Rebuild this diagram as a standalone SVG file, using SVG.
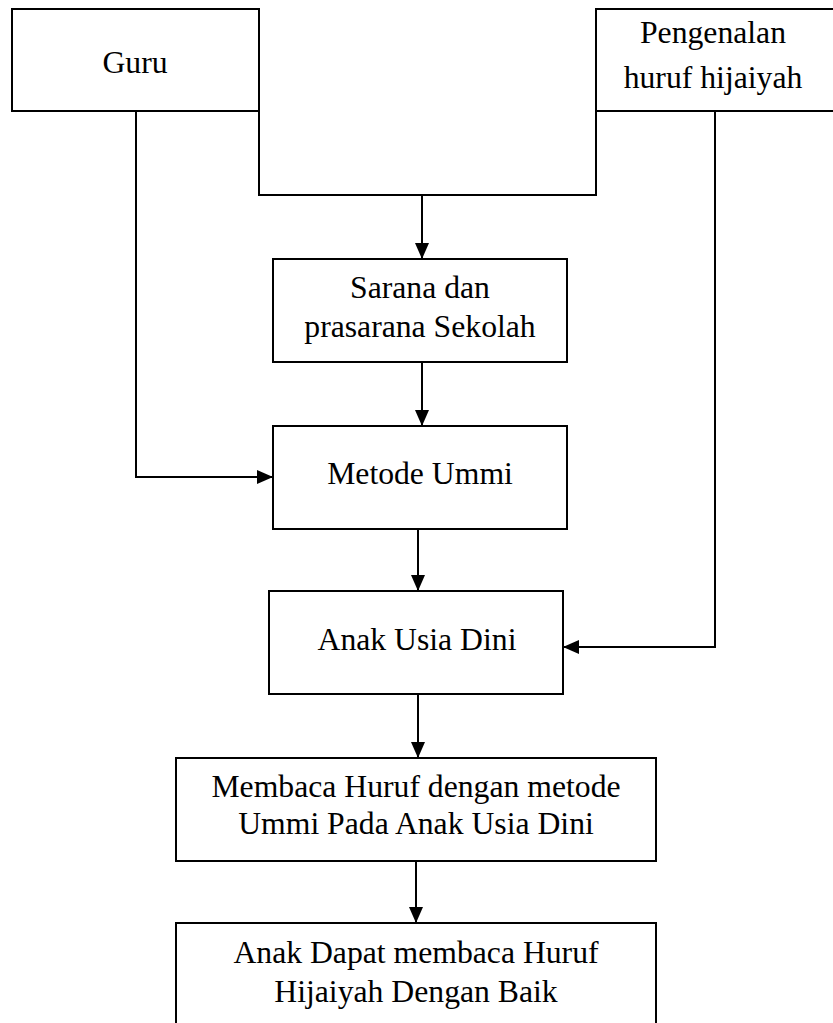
<svg xmlns="http://www.w3.org/2000/svg" width="833" height="1023" viewBox="0 0 833 1023">
<style>
.box{fill:#fff;stroke:#000;stroke-width:2}
.t{font-family:"Liberation Serif","Times New Roman",serif;font-size:31.7px;fill:#000;text-anchor:middle}
.c{fill:none;stroke:#000;stroke-width:2}
</style>
<defs>
<marker id="ah" markerUnits="userSpaceOnUse" viewBox="0 0 16 14" refX="16" refY="7" markerWidth="16" markerHeight="14" orient="auto">
<path d="M0,0 L16,7 L0,14 Z" fill="#000"/>
</marker>
</defs>
<rect width="833" height="1023" fill="#fff"/>
<g id="connectors">
<path class="c" d="M259,111 V195 H596 V111"/>
<path class="c" d="M422,195 V259" marker-end="url(#ah)"/>
<path class="c" d="M136,111 V477 H273" marker-end="url(#ah)"/>
<path class="c" d="M715,111 V647 H563" marker-end="url(#ah)"/>
<path class="c" d="M422,362 V426" marker-end="url(#ah)"/>
<path class="c" d="M418,529 V591" marker-end="url(#ah)"/>
<path class="c" d="M418,694 V758" marker-end="url(#ah)"/>
<path class="c" d="M416,861 V923" marker-end="url(#ah)"/>
</g>
<g id="guru">
<rect class="box" x="12" y="9" width="247" height="102"/>
<text class="t" x="135" y="73">Guru</text>
</g>
<g id="pengenalan">
<rect class="box" x="596" y="9" width="250" height="102"/>
<text class="t" x="713" y="43">Pengenalan</text>
<text class="t" x="713" y="88">huruf hijaiyah</text>
</g>
<g id="sarana">
<rect class="box" x="273" y="259" width="294" height="103"/>
<text class="t" x="420" y="298">Sarana dan</text>
<text class="t" x="420" y="337">prasarana Sekolah</text>
</g>
<g id="metode">
<rect class="box" x="273" y="426" width="294" height="103"/>
<text class="t" x="420" y="484">Metode Ummi</text>
</g>
<g id="anak">
<rect class="box" x="269" y="591" width="294" height="103"/>
<text class="t" x="417" y="650">Anak Usia Dini</text>
</g>
<g id="membaca">
<rect class="box" x="176" y="758" width="480" height="103"/>
<text class="t" x="416" y="797">Membaca Huruf dengan metode</text>
<text class="t" x="416" y="834">Ummi Pada Anak Usia Dini</text>
</g>
<g id="hasil">
<rect class="box" x="176" y="923" width="480" height="110"/>
<text class="t" x="416" y="963">Anak Dapat membaca Huruf</text>
<text class="t" x="416" y="1002">Hijaiyah Dengan Baik</text>
</g>
</svg>
